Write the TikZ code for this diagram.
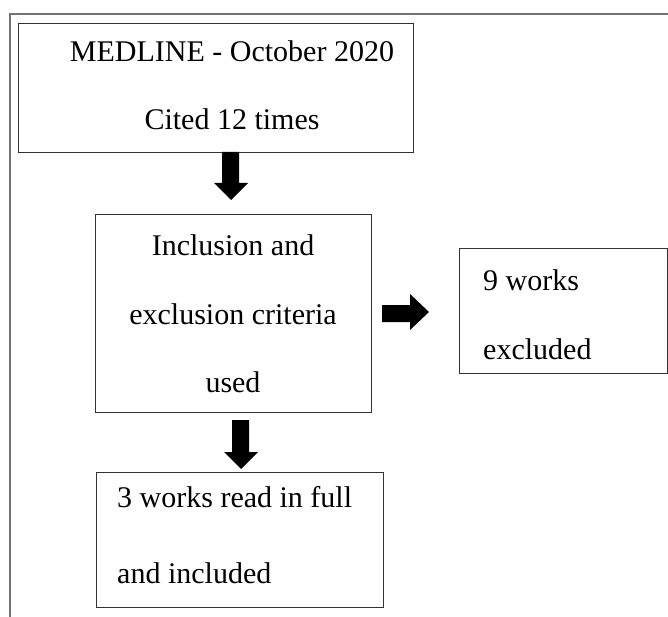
\documentclass[tikz,border=0pt]{standalone}
\usepackage{fontspec}
\setmainfont{Liberation Serif}
\begin{document}
\begin{tikzpicture}[x=1pt,y=-1pt,
  box/.style={draw=black!80,line width=1.2pt,inner sep=0pt,anchor=north west},
  txt/.style={font=\fontsize{30}{36}\selectfont,inner sep=0pt},
  blk/.style={fill=black}]
\useasboundingbox (0,0) rectangle (668,617);
\draw[black!55,line width=1.5pt] (10,617) -- (10,14) -- (668,14);
% boxes
\node[box,minimum width=395pt,minimum height=129pt] (b1) at (18,23) {};
\node[box,minimum width=276pt,minimum height=198pt] (b2) at (95,214) {};
\node[box,minimum width=208pt,minimum height=125pt] (b3) at (459,248) {};
\node[box,minimum width=287pt,minimum height=135pt] (b4) at (96,472) {};
% texts
\node[txt,anchor=base] (t1a) at (232,62) {MEDLINE - October 2020};
\node[txt,anchor=base] (t1b) at (232,130) {Cited 12 times};
\node[txt,anchor=base] (t2a) at (233,255) {Inclusion and};
\node[txt,anchor=base] (t2b) at (233,324) {exclusion criteria};
\node[txt,anchor=base] (t2c) at (233,392) {used};
\node[txt,anchor=base west] (t3a) at (483,290) {9 works};
\node[txt,anchor=base west] (t3b) at (483,359) {excluded};
\node[txt,anchor=base west] (t4a) at (117,507) {3 works read in full};
\node[txt,anchor=base west] (t4b) at (117,583) {and included};
% block arrows
\fill[blk] (222,152) -- (239,152) -- (239,183) -- (248,183) -- (231,200) -- (214,183) -- (222,183) -- cycle;
\fill[blk] (382,305) -- (410,305) -- (410,294) -- (429,312) -- (410,330) -- (410,322) -- (382,322) -- cycle;
\fill[blk] (232,420) -- (249,420) -- (249,452) -- (258,452) -- (241,469) -- (224,452) -- (232,452) -- cycle;
\end{tikzpicture}
\end{document}
